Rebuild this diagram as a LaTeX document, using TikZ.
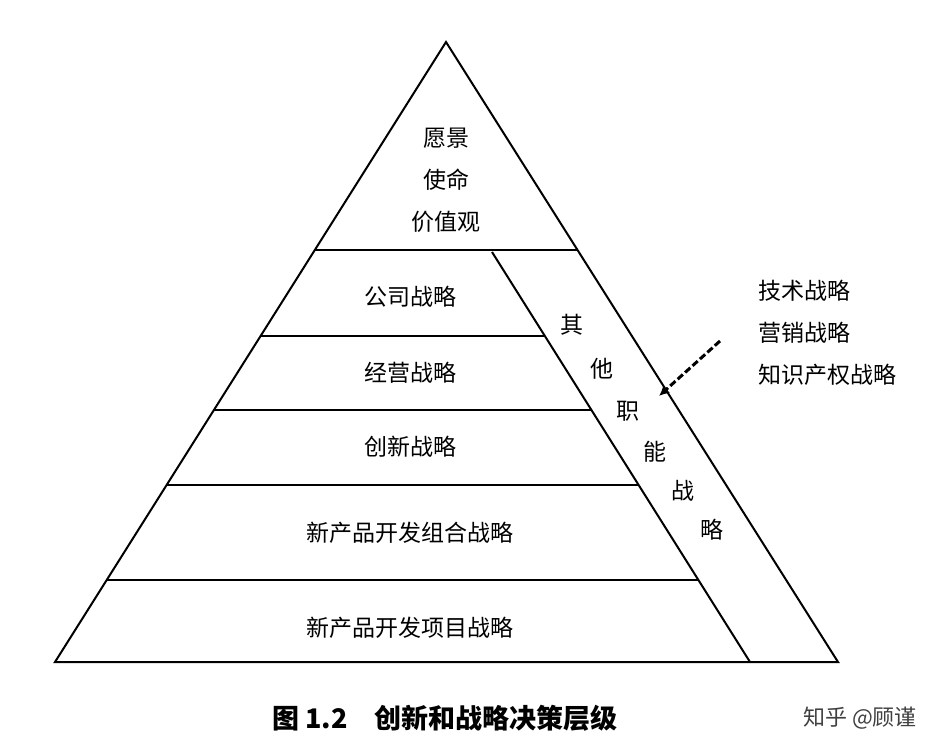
\documentclass[tikz,border=0pt]{standalone}
\usepackage{fontspec}
\usetikzlibrary{arrows.meta}
\newfontfamily\cjk{Noto Sans CJK SC}
\begin{document}
\begin{tikzpicture}[x=1pt,y=-1pt,line width=2pt,
  lab/.style={font=\cjk\fontsize{23}{42}\selectfont,inner sep=0pt}]
\useasboundingbox (0,0) rectangle (942,754);
\fill[white] (0,0) rectangle (942,754);
\coordinate (A) at (446,42);
\coordinate (L) at (55,662);
\coordinate (R) at (838,662);
\coordinate (D1) at (492,252);
\coordinate (D2) at (750,662);
\draw[line join=miter] (L) -- (A) -- (R) -- cycle;
\draw (D1) -- (D2);
\draw (314.8,250) -- (577.5,250);
\draw (260.6,336) -- (544.9,336);
\draw (213.9,410) -- (591.4,410);
\draw (166.6,485) -- (638.6,485);
\draw (106.7,580) -- (698.4,580);
\node[lab,align=center] (t0) at (446,180) {愿景\\使命\\价值观};
\node[lab] (t1) at (410,297) {公司战略};
\node[lab] (t2) at (410,373) {经营战略};
\node[lab] (t3) at (410,447) {创新战略};
\node[lab] (t4) at (410,533) {新产品开发组合战略};
\node[lab] (t5) at (410,628) {新产品开发项目战略};
\node[lab] (v1) at (572,325) {其};
\node[lab] (v2) at (602,369) {他};
\node[lab] (v3) at (628,411) {职};
\node[lab] (v4) at (655,452) {能};
\node[lab] (v5) at (683,491) {战};
\node[lab] (v6) at (712,530) {略};
\node[lab,align=left,anchor=west] (side) at (757,333) {技术战略\\营销战略\\知识产权战略};
\coordinate (as) at (720,341);
\coordinate (ae) at (659,396);
\draw[line width=3pt,dash pattern=on 7pt off 3pt,-{Latex[length=10pt,width=10pt]}] (as) -- (ae);
\node[font=\cjk\bfseries\fontsize{27}{30}\selectfont,inner sep=0pt] (cap) at (445,718) {图 1.2\quad 创新和战略决策层级};
\node[font=\cjk\fontsize{22}{24}\selectfont,text=black!75,inner sep=0pt] (wm) at (860,718) {知乎 @顾谨};
\end{tikzpicture}
\end{document}
